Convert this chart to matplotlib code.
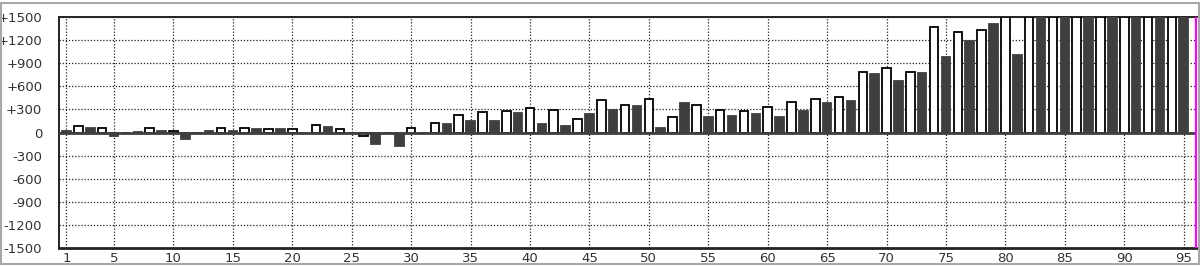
import numpy as np
import matplotlib
matplotlib.use('Agg')
import matplotlib.pyplot as plt
from matplotlib.patches import Rectangle

# values per position (1..95); bars above +1500 are cut by the axis
days = list(range(1, 96))
values = [
    15, 80, 60, 55, -45, 0, 5, 55, 15, 20,
    -90, 0, 15, 55, 15, 55, 40, 45, 40, 45,
    0, 100, 65, 45, 0, -45, -145, 0, -180, 60,
    0, 120, 105, 225, 150, 265, 145, 285, 250, 318,
    105, 296, 82, 180, 245, 425, 292, 360, 345, 440,
    62, 197, 377, 355, 200, 296, 220, 284, 242, 336,
    202, 394, 280, 441, 385, 463, 407, 788, 754, 840,
    663, 788, 775, 1365, 983, 1308, 1191, 1326, 1408, 1500,
    1005, 1500, 1500, 1500, 1500, 1500, 1500, 1500, 1500, 1500,
    1500, 1500, 1500, 1500, 1500,
]
xticks = [1] + list(range(5, 96, 5))
yticks = list(range(-1500, 1501, 300))
ylabels = [('+%d' % v if v > 0 else str(v)) for v in yticks]
current = 96

dark = '#3f3f3f'
colors = ['white' if d % 2 == 0 else dark for d in days]
edges = ['black' if d % 2 == 0 else dark for d in days]

W, H = 1200, 266
fig = plt.figure(figsize=(W / 100, H / 100), dpi=100)
ax = fig.add_axes([59 / W, 1 - 248 / H, (1197 - 59) / W, (248 - 17) / H])

ax.bar(days, values, width=0.72, color=colors, edgecolor=edges, linewidth=1.3, zorder=3)
ax.axhline(0, color=dark, linewidth=2, zorder=4)
ax.axvline(current, color='#ff00ff', linewidth=1.6, zorder=5)

ax.set_xlim(0.37, 96.12)
ax.set_ylim(-1500, 1500)
ax.set_xticks(xticks)
ax.set_yticks(yticks)
ax.set_yticklabels(ylabels)
ax.tick_params(length=0, labelsize=9.5, labelcolor='#333333')
ax.tick_params(axis='y', pad=12)
ax.tick_params(axis='x', pad=3)
ax.grid(True, color='#222222', linestyle=(0, (1, 1.5)), linewidth=0.9, zorder=1)

for s in ['top', 'left']:
    ax.spines[s].set_linewidth(1.4)
    ax.spines[s].set_color('#222222')
ax.spines['bottom'].set_linewidth(2)
ax.spines['bottom'].set_color('#222222')
ax.spines['right'].set_visible(False)

# grey frame round the whole picture
fig.patches.append(Rectangle((1 / W, 2 / H), 1197.5 / W, 261 / H, transform=fig.transFigure,
                             fill=False, edgecolor='#a8a8a8', linewidth=1.5, zorder=10))

fig.savefig('out.png', dpi=100)
